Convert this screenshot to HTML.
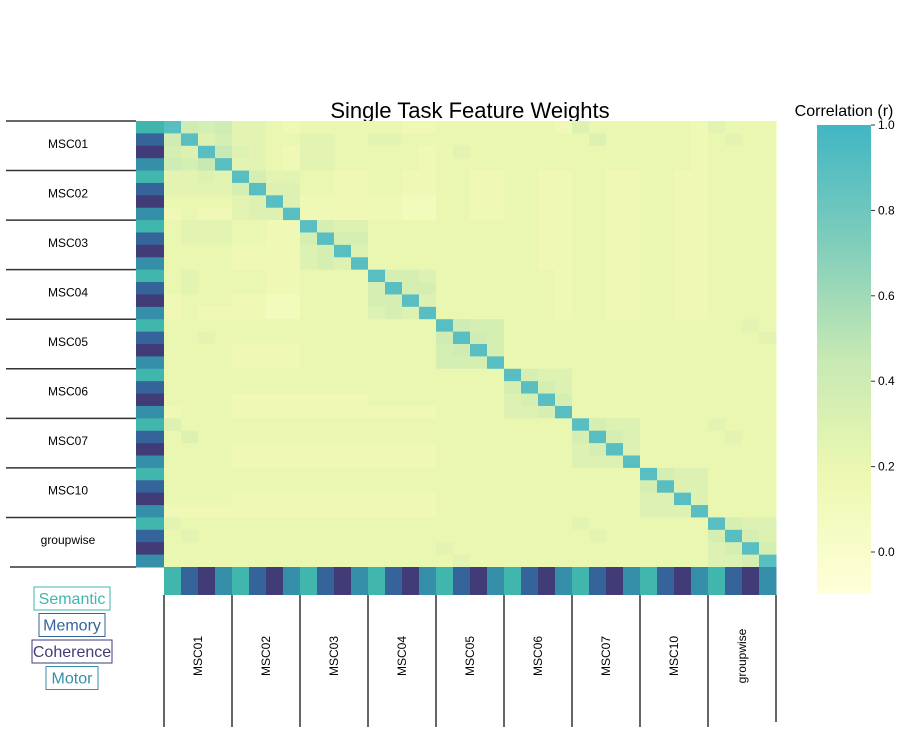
<!DOCTYPE html>
<html><head><meta charset="utf-8"><style>
body{margin:0;background:#fff;font-family:"Liberation Sans","DejaVu Sans",sans-serif}
</style></head><body>
<svg id="c" width="904" height="734" xmlns="http://www.w3.org/2000/svg">
<defs><linearGradient id="cb" x1="0" y1="1" x2="0" y2="0">
<stop offset="0" stop-color="#ffffd9"/><stop offset="0.25" stop-color="#edf8b1"/><stop offset="0.5" stop-color="#c7e9b4"/><stop offset="0.75" stop-color="#7fcdbb"/><stop offset="1" stop-color="#41b6c4"/></linearGradient></defs>
<text x="470" y="118" font-size="22" text-anchor="middle">Single Task Feature Weights</text>
<text x="844" y="116" font-size="16" text-anchor="middle">Correlation (r)</text>
<rect x="817" y="125" width="54" height="468" fill="url(#cb)"/>
<g id="heat"></g><g id="ann"></g>
</svg>
<script>
const subjects=["MSC01","MSC02","MSC03","MSC04","MSC05","MSC06","MSC07","MSC10","groupwise"];
const tasks=["Semantic","Memory","Coherence","Motor"];
const taskColors=["#41b6ac","#35649a","#413b78","#368fa8"];
const cbTicks=[0.0,0.2,0.4,0.6,0.8,1.0];
const vmin=-0.096, vmax=1.0;
// correlation matrix rows (lower triangle used), each char hex digit / 20
const rows=[
"F 000 0000 0000 0000 0000 0000 0000 0000 0000",
"8 F00 0000 0000 0000 0000 0000 0000 0000 0000",
"76 F0 0000 0000 0000 0000 0000 0000 0000 0000",
"879 F 0000 0000 0000 0000 0000 0000 0000 0000",
"5565 F000 0000 0000 0000 0000 0000 0000 0000",
"5555 7F00 0000 0000 0000 0000 0000 0000 0000",
"4444 56F0 0000 0000 0000 0000 0000 0000 0000",
"3433 566F 0000 0000 0000 0000 0000 0000 0000",
"4555 4433 F000 0000 0000 0000 0000 0000 0000",
"4555 4433 7F00 0000 0000 0000 0000 0000 0000",
"4444 3333 67F0 0000 0000 0000 0000 0000 0000",
"4444 3333 676F 0000 0000 0000 0000 0000 0000",
"4544 4433 4444 F000 0000 0000 0000 0000 0000",
"4544 4433 4444 7F00 0000 0000 0000 0000 0000",
"3444 3322 4444 77F0 0000 0000 0000 0000 0000",
"3433 3322 4444 676F 0000 0000 0000 0000 0000",
"4444 4444 4444 4444 F000 0000 0000 0000 0000",
"4454 4444 4444 4444 8F00 0000 0000 0000 0000",
"4444 3333 4444 4444 78F0 0000 0000 0000 0000",
"4444 3333 4444 4444 777F 0000 0000 0000 0000",
"4444 4444 4444 4444 4444 F000 0000 0000 0000",
"4444 4444 4444 4444 4444 7F00 0000 0000 0000",
"4444 3333 3333 4444 4444 67F0 0000 0000 0000",
"3444 3333 3333 3333 4444 667F 0000 0000 0000",
"6444 4444 4444 4444 4444 4444 F000 0000 0000",
"4644 4444 4444 4444 4444 4444 7F00 0000 0000",
"4444 3333 3333 3333 4444 4444 67F0 0000 0000",
"4444 3333 3333 3333 4444 4444 666F 0000 0000",
"4444 4444 4444 4444 4444 4444 4444 F000 0000",
"4444 4444 4444 4444 4444 4444 4444 7F00 0000",
"4444 3333 3333 3333 4444 4444 4444 66F0 0000",
"3333 3333 3333 3333 4444 4444 4444 666F 0000",
"5444 4444 4444 4444 4444 4444 5444 4444 F000",
"4544 4444 4444 4444 4444 4444 4544 4444 7F00",
"4444 4444 4444 4444 5444 4444 4444 4444 67F0",
"4444 4444 4444 4444 4544 4444 4444 4444 667F"];
const N=36;
const M=rows.map(r=>r.replace(/ /g,""));
function val(i,j){const a=Math.max(i,j),b=Math.min(i,j);const c=M[a][b];return c===undefined?0.2:parseInt(c,16)/20+(c==="F"?0.15:0);}
const X0=164,Y0=121,W=612,H=446,cw=W/N,ch=H/N;
const xs=j=>X0+j*cw, ys=i=>Y0+i*ch;
const stops=[[0,[255,255,217]],[0.25,[237,248,177]],[0.5,[199,233,180]],[0.75,[127,205,187]],[1,[65,182,196]]];
function color(v){let t=(v-vmin)/(vmax-vmin);t=Math.max(0,Math.min(1,t));
for(let k=1;k<stops.length;k++){if(t<=stops[k][0]){const a=stops[k-1],b=stops[k],f=(t-a[0])/(b[0]-a[0]);
return "rgb("+a[1].map((c,q)=>Math.round(c+(b[1][q]-c)*f)).join(",")+")";}}return "rgb(65,182,196)";}
const NS="http://www.w3.org/2000/svg";
function mk(tag,at,p){const e=document.createElementNS(NS,tag);for(const k in at)e.setAttribute(k,at[k]);(p||document.getElementById("ann")).appendChild(e);return e;}
const heat=document.getElementById("heat");
for(let i=0;i<N;i++)for(let j=0;j<N;j++){
const r=mk("rect",{x:xs(j),y:ys(i),width:cw+0.5,height:ch+0.5,fill:color(val(i,j))},heat);

}
for(let i=0;i<N;i++){
const r=mk("rect",{x:136,y:ys(i),width:28,height:ch+0.5,fill:taskColors[i%4]});


const c=mk("rect",{x:xs(i),y:567,width:cw+0.5,height:28,fill:taskColors[i%4]});

}
const sh=4*ch, sw=4*cw;
for(let s=0;s<=subjects.length;s++){
const y=Y0+s*sh;
const l=mk("line",{x1:s==subjects.length?10:6,y1:y,x2:136,y2:y,stroke:"#333","stroke-width":1.5});


const x=X0+s*sw;
const v=mk("line",{x1:x,y1:595,x2:x,y2:s==subjects.length?722:727,stroke:"#333","stroke-width":1.5});

}
subjects.forEach((n,s)=>{
const t=mk("text",{x:68,y:Y0+s*sh+sh/2+2,"font-size":12,"text-anchor":"middle"});t.textContent=n;


const cx=X0+s*sw+sw/2+4;
const u=mk("text",{x:cx,y:656,"font-size":12,"text-anchor":"middle",transform:`rotate(-90 ${cx} 656)`});u.textContent=n;

});
cbTicks.forEach(v=>{const y=593-(v-vmin)/(vmax-vmin)*468;
const l=mk("line",{x1:871,y1:y,x2:875,y2:y,stroke:"#333"});


const t=mk("text",{x:878,y:y+4,"font-size":12});t.textContent=v.toFixed(1);

});
const lw=[76,66,80,52];
tasks.forEach((n,k)=>{const y=598+k*26.5;
const b=mk("rect",{x:72-lw[k]/2,y:y-11,width:lw[k],height:23,fill:"none",stroke:taskColors[k]});


const t=mk("text",{x:72,y:y+6,"font-size":16,"text-anchor":"middle",fill:taskColors[k]});t.textContent=n;

});
</script>
</body></html>
